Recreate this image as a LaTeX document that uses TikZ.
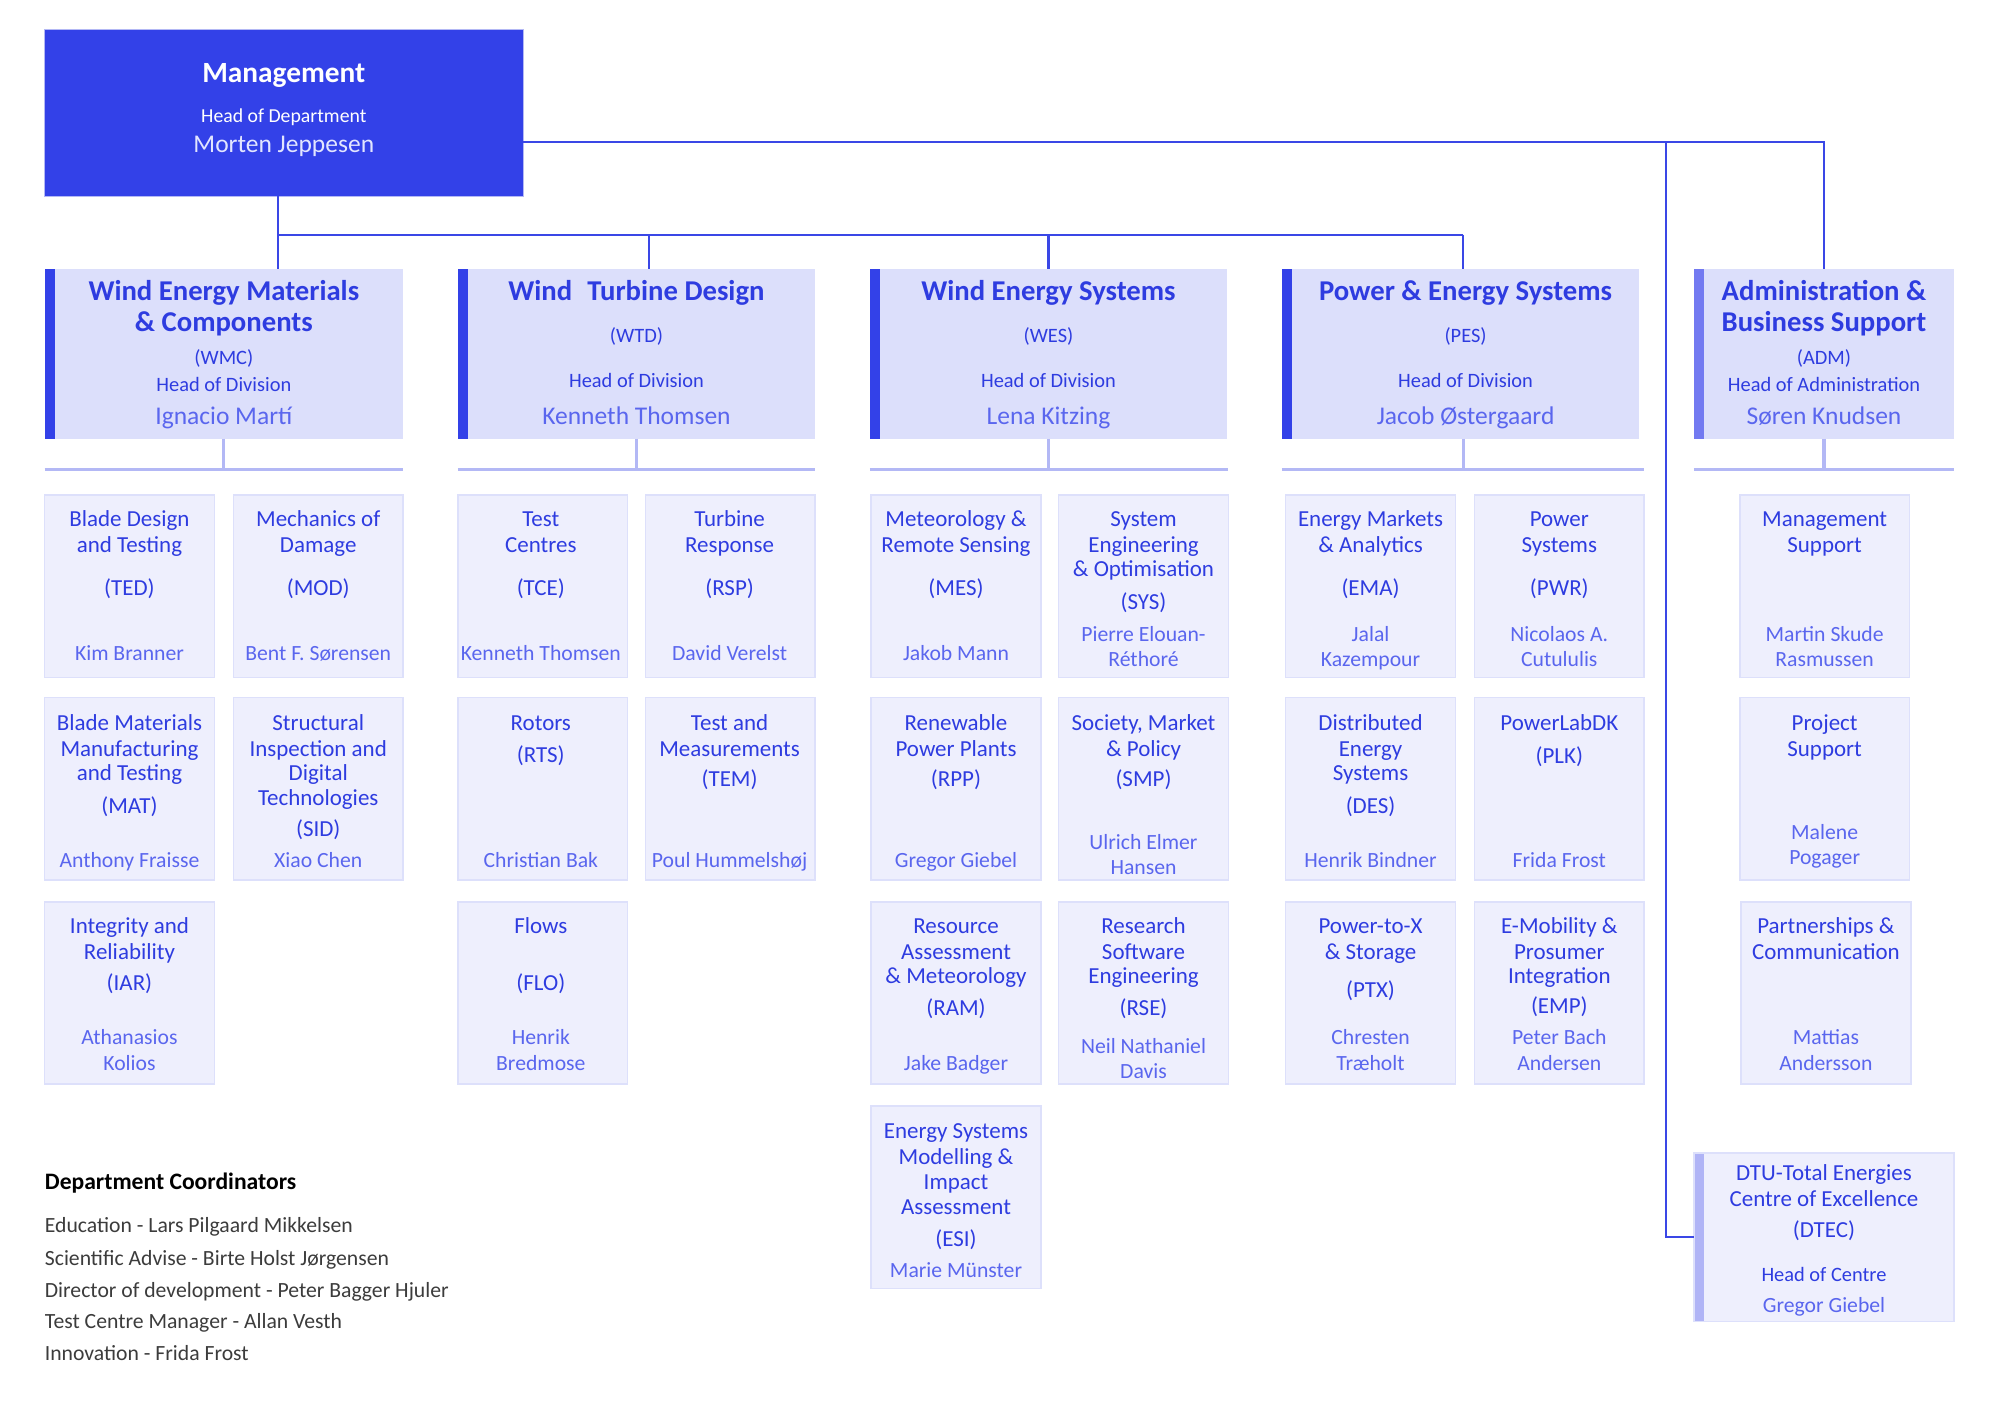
\documentclass[tikz,border=0pt]{standalone}
\usepackage{fontspec}
\setmainfont{Carlito}
\definecolor{mgmt}{HTML}{3341E8}
\definecolor{divfill}{HTML}{DCDFFB}
\definecolor{subfill}{HTML}{EEEFFD}
\definecolor{subedge}{HTML}{DDE0FB}
\definecolor{ttl}{HTML}{2E3CE0}
\definecolor{nm}{HTML}{5A66EE}
\definecolor{dline}{HTML}{3A47E6}
\definecolor{lline}{HTML}{B3B8F5}
\definecolor{admbar}{HTML}{737AF1}
\definecolor{dtecbar}{HTML}{B0B4F6}
\definecolor{mgname}{HTML}{E2E5FF}
\definecolor{coord}{HTML}{3C3C3C}
\newcounter{tn}
\newcommand\T[4]{\stepcounter{tn}\node[#1] (txt\arabic{tn}) at (#2,#3) {#4};}
\newcommand\SB[3]{\node[subbox] (#1) at (#2,#3) {};}
\tikzset{
  box/.style={anchor=north west, inner sep=0pt, outer sep=0pt},
  subbox/.style={box, fill=subfill, draw=subedge, line width=1.2pt, minimum width=133, minimum height=143},
  divbox/.style={box, fill=divfill, minimum height=133,
    path picture={\fill[#1] (path picture bounding box.north west) rectangle ([xshift=8pt]path picture bounding box.south west);}},
  txt/.style={anchor=mid, inner sep=0pt, yshift=-4.5pt},
  st/.style={txt, text=ttl, font=\fontsize{18}{20}\selectfont},
  nmt/.style={txt, text=nm, font=\fontsize{17}{20}\selectfont},
  dt/.style={txt, text=ttl, font=\bfseries\fontsize{22.5}{24}\selectfont},
  dh/.style={txt, text=ttl, font=\fontsize{16}{18}\selectfont},
  dn/.style={txt, text=nm, font=\fontsize{20}{22}\selectfont},
  mt/.style={txt, text=white, font=\bfseries\fontsize{23}{26}\selectfont},
  mh/.style={txt, text=white, font=\fontsize{15.5}{18}\selectfont},
  mn/.style={txt, text=mgname, font=\fontsize{20}{22}\selectfont},
  ct/.style={anchor=mid west, inner sep=0pt, yshift=-4.5pt, text=black, font=\bfseries\fontsize{18.5}{20}\selectfont},
  cl/.style={anchor=mid west, inner sep=0pt, yshift=-4.5pt, text=coord, font=\fontsize{17}{19}\selectfont},
  dl/.style={draw=dline, line width=1.6pt},
  ll/.style={draw=lline, line width=2.4pt},
}
\begin{document}
\begin{tikzpicture}[x=1pt, y=-1pt]
\useasboundingbox[fill=white] (0,0) rectangle (1568,1109);

% ---------- Management ----------
\node[box, fill=mgmt, draw=lline, line width=0.6pt, minimum width=375, minimum height=131] (mgmt) at (35,23) {};
\T{mt}{222.5}{58}{Management}
\T{mh}{222.5}{89}{Head of Department}
\T{mn}{222.5}{113}{Morten Jeppesen}

% ---------- Divisions ----------
\node[divbox=mgmt, minimum width=281] (wmc) at (35,211) {};
\node[divbox=mgmt, minimum width=280] (wtd) at (359,211) {};
\node[divbox=mgmt, minimum width=280] (wes) at (682,211) {};
\node[divbox=mgmt, minimum width=280] (pes) at (1005,211) {};
\node[divbox=admbar, minimum width=204] (adm) at (1328,211) {};
\node[box, fill=subfill, draw=subedge, line width=1.2pt, minimum width=204, minimum height=132,
  path picture={\fill[dtecbar] (path picture bounding box.north west) rectangle ([xshift=8pt]path picture bounding box.south west);}] (dtec) at (1328,904) {};

\T{dt}{175.5}{229}{Wind Energy Materials}
\T{dt}{175.5}{253}{\& Components}
\T{dh}{175.5}{279}{(WMC)}
\T{dh}{175.5}{300}{Head of Division}
\T{dn}{175.5}{326}{Ignacio Martí}

\T{dt}{499}{229}{Wind\hspace{0.3em} Turbine Design}
\T{dh}{499}{262}{(WTD)}
\T{dh}{499}{297}{Head of Division}
\T{dn}{499}{326}{Kenneth Thomsen}

\T{dt}{822}{229}{Wind Energy Systems}
\T{dh}{822}{262}{(WES)}
\T{dh}{822}{297}{Head of Division}
\T{dn}{822}{326}{Lena Kitzing}

\T{dt}{1149}{229}{Power \& Energy Systems}
\T{dh}{1149}{262}{(PES)}
\T{dh}{1149}{297}{Head of Division}
\T{dn}{1149}{326}{Jacob Østergaard}

\T{dt}{1430}{229}{Administration \&}
\T{dt}{1430}{253}{Business Support}
\T{dh}{1430}{279}{(ADM)}
\T{dh}{1430}{300}{Head of Administration}
\T{dn}{1430}{326}{Søren Knudsen}

\T{st}{1430}{919}{DTU-Total Energies}
\T{st}{1430}{939}{Centre of Excellence}
\T{st}{1430}{963}{(DTEC)}
\T{dh}{1430}{998}{Head of Centre}
\T{nmt}{1430}{1022}{Gregor Giebel}

% ---------- Dark connectors ----------
\coordinate (j0) at (218,184);
\coordinate (j1) at (509,184);
\coordinate (j2) at (822,184);
\coordinate (j3) at (1147,184);
\coordinate (k1) at (1306,111);
\coordinate (k2) at (1430,111);
\draw[dl] (mgmt.south -| j0) -- (j0) -- (wmc.north -| j0);
\draw[dl] (j0) -- (j3);
\draw[dl] (j1) -- (wtd.north -| j1);
\draw[dl] (j2) -- (wes.north -| j2);
\draw[dl] (j3) -- (pes.north -| j3);
\draw[dl] (mgmt.east |- k1) -- (k2) -- (adm.north);
\draw[dl] (k1) -- (k1 |- dtec.west) -- (dtec.west);

% ---------- Sub boxes ----------
\SB{ted}{35}{388}  \SB{mod}{183}{388}
\SB{mat}{35}{547}  \SB{sid}{183}{547}
\SB{iar}{35}{707}
\SB{tce}{359}{388} \SB{rsp}{506}{388}
\SB{rts}{359}{547} \SB{tem}{506}{547}
\SB{flo}{359}{707}
\SB{mes}{683}{388} \SB{sys}{830}{388}
\SB{rpp}{683}{547} \SB{smp}{830}{547}
\SB{ram}{683}{707} \SB{rse}{830}{707}
\SB{esi}{683}{867}
\SB{ema}{1008}{388} \SB{pwr}{1156}{388}
\SB{des}{1008}{547} \SB{plk}{1156}{547}
\SB{ptx}{1008}{707} \SB{emp}{1156}{707}
\SB{msu}{1364}{388}
\SB{psu}{1364}{547}
\SB{pco}{1365}{707}

% ---------- Light connectors ----------
\coordinate (hl) at (0,368);
\draw[ll] (wmc.south) -- (wmc.south |- hl);
\draw[ll] (wmc.south west |- hl) -- (mod.east |- hl);
\draw[ll] (wtd.south) -- (wtd.south |- hl);
\draw[ll] (wtd.south west |- hl) -- (rsp.east |- hl);
\draw[ll] (wes.south) -- (wes.south |- hl);
\draw[ll] (wes.south west |- hl) -- (sys.east |- hl);
\draw[ll] (pes.south -| j3) -- (j3 |- hl);
\draw[ll] (pes.south west |- hl) -- (pwr.east |- hl);
\draw[ll] (adm.south) -- (adm.south |- hl);
\draw[ll] (adm.south west |- hl) -- (adm.south east |- hl);

% ---------- Sub box texts ----------
% WMC
\T{st}{101.5}{406}{Blade Design}
\T{st}{101.5}{426}{and Testing}
\T{st}{101.5}{460}{(TED)}
\T{nmt}{101.5}{511}{Kim Branner}
\T{st}{249.5}{406}{Mechanics of}
\T{st}{249.5}{426}{Damage}
\T{st}{249.5}{460}{(MOD)}
\T{nmt}{249.5}{511}{Bent F. Sørensen}
\T{st}{101.5}{566}{Blade Materials}
\T{st}{101.5}{586}{Manufacturing}
\T{st}{101.5}{605}{and Testing}
\T{st}{101.5}{631}{(MAT)}
\T{nmt}{101.5}{673}{Anthony Fraisse}
\T{st}{249.5}{566}{Structural}
\T{st}{249.5}{586}{Inspection and}
\T{st}{249.5}{605}{Digital}
\T{st}{249.5}{625}{Technologies}
\T{st}{249.5}{649}{(SID)}
\T{nmt}{249.5}{673}{Xiao Chen}
\T{st}{101.5}{725}{Integrity and}
\T{st}{101.5}{745}{Reliability}
\T{st}{101.5}{770}{(IAR)}
\T{nmt}{101.5}{812}{Athanasios}
\T{nmt}{101.5}{832}{Kolios}
% WTD
\T{st}{424}{406}{Test}
\T{st}{424}{426}{Centres}
\T{st}{424}{460}{(TCE)}
\T{nmt}{424}{511}{Kenneth Thomsen}
\T{st}{572}{406}{Turbine}
\T{st}{572}{426}{Response}
\T{st}{572}{460}{(RSP)}
\T{nmt}{572}{511}{David Verelst}
\T{st}{424}{566}{Rotors}
\T{st}{424}{591}{(RTS)}
\T{nmt}{424}{673}{Christian Bak}
\T{st}{572}{566}{Test and}
\T{st}{572}{586}{Measurements}
\T{st}{572}{610}{(TEM)}
\T{nmt}{572}{673}{Poul Hummelshøj}
\T{st}{424}{725}{Flows}
\T{st}{424}{770}{(FLO)}
\T{nmt}{424}{812}{Henrik}
\T{nmt}{424}{832}{Bredmose}
% WES
\T{st}{749.5}{406}{Meteorology \&}
\T{st}{749.5}{426}{Remote Sensing}
\T{st}{749.5}{460}{(MES)}
\T{nmt}{749.5}{511}{Jakob Mann}
\T{st}{896.5}{406}{System}
\T{st}{896.5}{426}{Engineering}
\T{st}{896.5}{445}{\& Optimisation}
\T{st}{896.5}{471}{(SYS)}
\T{nmt}{896.5}{496}{Pierre Elouan-}
\T{nmt}{896.5}{516}{Réthoré}
\T{st}{749.5}{566}{Renewable}
\T{st}{749.5}{586}{Power Plants}
\T{st}{749.5}{610}{(RPP)}
\T{nmt}{749.5}{673}{Gregor Giebel}
\T{st}{896.5}{566}{Society, Market}
\T{st}{896.5}{586}{\& Policy}
\T{st}{896.5}{610}{(SMP)}
\T{nmt}{896.5}{659}{Ulrich Elmer}
\T{nmt}{896.5}{679}{Hansen}
\T{st}{749.5}{725}{Resource}
\T{st}{749.5}{745}{Assessment}
\T{st}{749.5}{764}{\& Meteorology}
\T{st}{749.5}{789}{(RAM)}
\T{nmt}{749.5}{832}{Jake Badger}
\T{st}{896.5}{725}{Research}
\T{st}{896.5}{745}{Software}
\T{st}{896.5}{764}{Engineering}
\T{st}{896.5}{789}{(RSE)}
\T{nmt}{896.5}{819}{Neil Nathaniel}
\T{nmt}{896.5}{839}{Davis}
\T{st}{749.5}{886}{Energy Systems}
\T{st}{749.5}{906}{Modelling \&}
\T{st}{749.5}{926}{Impact}
\T{st}{749.5}{945}{Assessment}
\T{st}{749.5}{970}{(ESI)}
\T{nmt}{749.5}{995}{Marie Münster}
% PES
\T{st}{1074.5}{406}{Energy Markets}
\T{st}{1074.5}{426}{\& Analytics}
\T{st}{1074.5}{460}{(EMA)}
\T{nmt}{1074.5}{496}{Jalal}
\T{nmt}{1074.5}{516}{Kazempour}
\T{st}{1222.5}{406}{Power}
\T{st}{1222.5}{426}{Systems}
\T{st}{1222.5}{460}{(PWR)}
\T{nmt}{1222.5}{496}{Nicolaos A.}
\T{nmt}{1222.5}{516}{Cutululis}
\T{st}{1074.5}{566}{Distributed}
\T{st}{1074.5}{586}{Energy}
\T{st}{1074.5}{605}{Systems}
\T{st}{1074.5}{631}{(DES)}
\T{nmt}{1074.5}{673}{Henrik Bindner}
\T{st}{1222.5}{566}{PowerLabDK}
\T{st}{1222.5}{592}{(PLK)}
\T{nmt}{1222.5}{673}{Frida Frost}
\T{st}{1074.5}{725}{Power-to-X}
\T{st}{1074.5}{745}{\& Storage}
\T{st}{1074.5}{775}{(PTX)}
\T{nmt}{1074.5}{812}{Chresten}
\T{nmt}{1074.5}{832}{Træholt}
\T{st}{1222.5}{725}{E-Mobility \&}
\T{st}{1222.5}{745}{Prosumer}
\T{st}{1222.5}{764}{Integration}
\T{st}{1222.5}{788}{(EMP)}
\T{nmt}{1222.5}{812}{Peter Bach}
\T{nmt}{1222.5}{832}{Andersen}
% ADM
\T{st}{1430.5}{406}{Management}
\T{st}{1430.5}{426}{Support}
\T{nmt}{1430.5}{496}{Martin Skude}
\T{nmt}{1430.5}{516}{Rasmussen}
\T{st}{1430.5}{566}{Project}
\T{st}{1430.5}{586}{Support}
\T{nmt}{1430.5}{651}{Malene}
\T{nmt}{1430.5}{671}{Pogager}
\T{st}{1431.5}{725}{Partnerships \&}
\T{st}{1431.5}{745}{Communication}
\T{nmt}{1431.5}{812}{Mattias}
\T{nmt}{1431.5}{832}{Andersson}

% ---------- Department coordinators ----------
\T{ct}{35}{926}{Department Coordinators}
\T{cl}{35}{959}{Education - Lars Pilgaard Mikkelsen}
\T{cl}{35}{985}{Scientific Advise - Birte Holst Jørgensen}
\T{cl}{35}{1010}{Director of development - Peter Bagger Hjuler}
\T{cl}{35}{1035}{Test Centre Manager - Allan Vesth}
\T{cl}{35}{1060}{Innovation - Frida Frost}
\end{tikzpicture}
\end{document}
